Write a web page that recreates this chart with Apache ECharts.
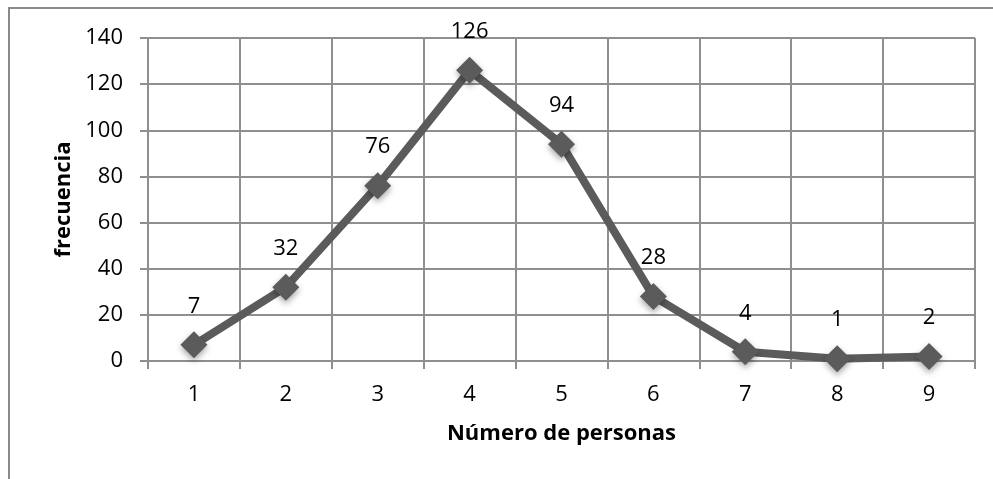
<!DOCTYPE html>
<html>
<head>
<meta charset="utf-8">
<script src="https://cdn.jsdelivr.net/npm/echarts@6/dist/echarts.min.js"></script>
<style>
html,body{margin:0;padding:0;background:#fff;}
#chart{width:993px;height:479px;}
</style>
</head>
<body>
<div id="chart"></div>
<script>
const categories = ['1','2','3','4','5','6','7','8','9'];
const values = [7, 32, 76, 126, 94, 28, 4, 1, 2];
const yMin = 0, yMax = 140, yInterval = 20;
const xTitle = 'Número de personas';
const yTitle = 'frecuencia';

const chart = echarts.init(document.getElementById('chart'));
const font = '"Open Sans", "Liberation Sans", sans-serif';
const gridColor = '#8f8f8f';
chart.setOption({
  animation: false,
  backgroundColor: '#fff',
  graphic: [{
    type: 'rect',
    shape: {x: 9, y: 8, width: 1200, height: 800},
    style: {fill: 'none', stroke: '#8a8a8a', lineWidth: 2},
    silent: true
  }],
  grid: {left: 148, right: 18, top: 38, bottom: 118},
  xAxis: {
    type: 'category',
    data: categories,
    boundaryGap: true,
    name: xTitle,
    nameLocation: 'middle',
    nameGap: 62,
    nameTextStyle: {fontFamily: font, fontSize: 22, fontWeight: 'bold', color: '#000'},
    axisLine: {show: true, lineStyle: {color: gridColor, width: 2}},
    axisTick: {show: true, length: 8, lineStyle: {color: gridColor, width: 2}},
    axisLabel: {fontFamily: font, fontSize: 22, color: '#000', margin: 23},
    splitLine: {show: true, lineStyle: {color: gridColor, width: 2}}
  },
  yAxis: {
    type: 'value',
    min: yMin, max: yMax, interval: yInterval,
    name: yTitle,
    nameLocation: 'middle',
    nameGap: 73,
    nameRotate: 90,
    nameTextStyle: {fontFamily: font, fontSize: 22, fontWeight: 'bold', color: '#000'},
    axisLine: {show: true, lineStyle: {color: gridColor, width: 2}},
    axisTick: {show: true, length: 8, lineStyle: {color: gridColor, width: 2}},
    axisLabel: {fontFamily: font, fontSize: 22, color: '#000', margin: 25},
    splitLine: {show: true, lineStyle: {color: gridColor, width: 2}}
  },
  series: [{
    type: 'line',
    data: values,
    symbol: 'diamond',
    symbolSize: 27,
    lineStyle: {color: '#5b5b5b', width: 8},
    itemStyle: {color: '#5b5b5b', shadowColor: 'rgba(0,0,0,0.35)', shadowBlur: 6, shadowOffsetY: 3},
    label: {show: true, position: 'top', distance: 14, fontFamily: font, fontSize: 22, color: '#000'},
    z: 5
  }]
});
</script>
</body>
</html>
